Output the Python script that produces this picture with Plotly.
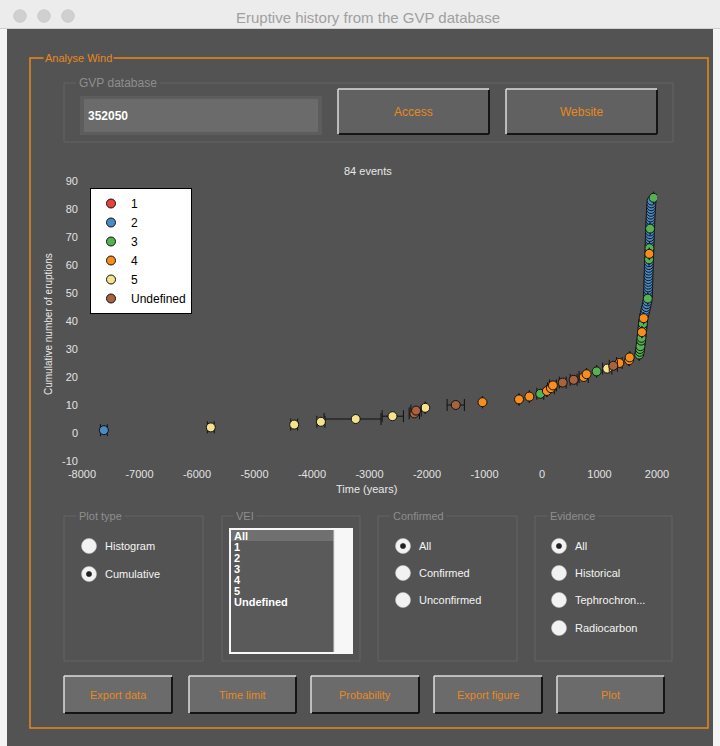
import plotly.graph_objects as go

W, H = 720, 746

# ---------------- eruption catalogue (in chronological order) ----------------
years = [-7620, -5760, -4310, -3845, -3240, -2600, -2220, -2190, -2030, -1500,
         -1035, -400, -220, -30, 85, 155, 190, 360, 550, 725,
         775, 950, 1135, 1240, 1345, 1515, 1525, 1690, 1700, 1705,
         1712, 1720, 1725, 1730, 1735, 1738, 1745, 1750, 1755, 1760,
         1768, 1775, 1790, 1800, 1812, 1822, 1832, 1840, 1842, 1844,
         1845, 1847, 1848, 1850, 1851, 1852, 1854, 1855, 1857, 1858,
         1860, 1862, 1864, 1866, 1868, 1869, 1870, 1872, 1873, 1875,
         1876, 1878, 1880, 1882, 1884, 1886, 1888, 1890, 1893, 1896,
         1899, 1902, 1906, 1940]
vei = ['2', '5', '5', '5', '5', '5', 'Undefined', 'Undefined', '5', 'Undefined',
       '4', '4', '4', '3', '4', '4', '4', 'Undefined', 'Undefined', '4',
       '4', '3', '5', 'Undefined', '4', '4', '4', '3', '3', '3',
       '3', '2', '3', '3', '2', '4', '3', '2', '3', '2',
       '4', '2', '2', '2', '2', '2', '2', '3', '2', '2',
       '2', '2', '2', '2', '2', '2', '2', '2', '2', '2',
       '2', '3', '2', '4', '3', '3', '2', '2', '2', '2',
       '2', '2', '3', '2', '2', '2', '2', '2', '2', '2',
       '2', '2', '2', '3']
err_minus = [60, 60, 60, 70, 550, 180, 90, 90, 0, 150,
             0, 0, 0, 60, 0, 60, 60, 60, 60, 80,
             0, 0, 80, 70, 50, 0, 0] + [0] * 57
err_plus = [60, 60, 60, 70, 440, 190, 90, 90, 0, 150,
            0, 0, 0, 60, 0, 60, 60, 60, 60, 80,
            0, 0, 80, 70, 50, 0, 0] + [0] * 57

vei_classes = ['1', '2', '3', '4', '5', 'Undefined']
vei_colors = ['#e8413c', '#4a8ac6', '#56b154', '#f88d1e', '#f4e28c', '#a8623e']

x_ticks = [-8000, -7000, -6000, -5000, -4000, -3000, -2000, -1000, 0, 1000, 2000]
x_tick_labels = ['-8000', '-7000', '-6000', '-5000', '-4000', '-3000',
                 '-2000', '-1000', '0', '1000', '2000']
y_ticks = [-10, 0, 10, 20, 30, 40, 50, 60, 70, 80, 90]
y_tick_labels = ['-10', '0', '10', '20', '30', '40', '50', '60', '70', '80', '90']

# cumulative number of eruptions
counts = list(range(1, len(years) + 1))

# ---------------- colours / fonts ----------------
BG = '#535353'
ORANGE = '#e8891c'
GROUP_LINE = '#646464'
GROUP_TXT = '#8e8e8e'
FONT = 'Liberation Sans, Arial, sans-serif'

fig = go.Figure()

for cls, col in zip(vei_classes, vei_colors):
    idx = [i for i, v in enumerate(vei) if v == cls]
    xs = [years[i] for i in idx] or [None]
    ys = [counts[i] for i in idx] or [None]
    fig.add_trace(go.Scatter(
        x=xs, y=ys,
        mode='markers',
        name=cls,
        marker=dict(size=9, color=col, line=dict(color='#111111', width=1)),
        error_x=dict(type='data', symmetric=False,
                     array=[err_plus[i] for i in idx] or [0],
                     arrayminus=[err_minus[i] for i in idx] or [0],
                     color='#111111', thickness=1, width=6),
        showlegend=True,
    ))

# ---------------- helpers for the window furniture (pixel coordinates) ----------------
shapes = []
annotations = []


def X(px):
    return px / W


def Y(py):
    return 1 - py / H


def rect(x0, y0, x1, y1, fill=None, line=None, lw=1):
    shapes.append(dict(type='rect', xref='paper', yref='paper',
                       x0=X(x0), x1=X(x1), y0=Y(y1), y1=Y(y0),
                       fillcolor=fill or 'rgba(0,0,0,0)',
                       line=dict(color=line or 'rgba(0,0,0,0)', width=lw if line else 0),
                       layer='below'))


def seg(x0, y0, x1, y1, color, lw=1):
    shapes.append(dict(type='line', xref='paper', yref='paper',
                       x0=X(x0), x1=X(x1), y0=Y(y0), y1=Y(y1),
                       line=dict(color=color, width=lw), layer='below'))


def circle(cx, cy, r, fill, line=None, lw=0.6):
    shapes.append(dict(type='circle', xref='paper', yref='paper',
                       x0=X(cx - r), x1=X(cx + r), y0=Y(cy + r), y1=Y(cy - r),
                       fillcolor=fill,
                       line=dict(color=line or fill, width=lw), layer='above'))


def text(x, y, s, size=11, color='#ffffff', anchor='left', bg=None, angle=0, pad=1):
    a = dict(x=X(x), y=Y(y), xref='paper', yref='paper', text=s, showarrow=False,
             xanchor=anchor, yanchor='middle',
             font=dict(family=FONT, size=size, color=color), textangle=angle)
    if bg:
        a['bgcolor'] = bg
        a['borderpad'] = pad
    annotations.append(a)


def button(x0, y0, x1, y1, label, fill):
    rect(x0, y0, x1, y1, fill=fill)
    seg(x0, y0, x1, y0, '#dcdcdc', 1.5)
    seg(x0, y0, x0, y1, '#dcdcdc', 1.5)
    seg(x0 + 1, y1, x1, y1, '#151515', 2)
    seg(x1, y0 + 1, x1, y1, '#151515', 2)
    text((x0 + x1) / 2, (y0 + y1) / 2, label, 12 if y1 - y0 > 40 else 11, ORANGE, 'center')


def group(x0, y0, x1, y1, label, lx, size=11):
    rect(x0, y0, x1, y1, line=GROUP_LINE, lw=1)
    text(lx, y0, label, size, GROUP_TXT, 'left', bg=BG, pad=2)


def radio(cx, cy, label, selected=False):
    circle(cx, cy, 7.5, '#f2f2f2', '#c4c4c4', 0.6)
    if selected:
        circle(cx, cy, 2.6, '#222222')
    text(cx + 14, cy, label, 11, '#f4f4f4', 'left')


# window frame and title bar
rect(0, 0, 720, 29, fill='#ececec')
seg(0, 28.5, 720, 28.5, '#cfcfcf', 1)
rect(7, 29, 713, 746, fill=BG)
for cx in (20, 44, 68):
    circle(cx, 16, 6.3, '#d0d0d0', '#bdbdbd', 0.6)
text(368, 17, 'Eruptive history from the GVP database', 15, '#a0a0a0', 'center')

# outer orange panel
rect(30, 58, 708, 728, line=ORANGE, lw=1.5)
text(43, 58, 'Analyse Wind', 11, ORANGE, 'left', bg=BG, pad=1)

# database access row
group(64, 83, 673, 142, 'GVP database', 76, 12)
rect(80, 96, 322, 135, fill='#5d5d5d')
rect(84, 99, 318, 132, fill='#6b6b6b')
text(86, 116, '<b>352050</b>', 12, '#ffffff', 'left')
button(338, 89, 489, 134, 'Access', '#616161')
button(506, 89, 657, 134, 'Website', '#616161')

# option panels
group(64, 516, 203, 661, 'Plot type', 76)
radio(89, 546, 'Histogram')
radio(89, 574, 'Cumulative', True)

group(222, 516, 360, 661, 'VEI', 233)
rect(229, 528, 353, 654, fill='#f7f7f7')
rect(231, 530, 334, 652, fill='#5a5a5a')
rect(231, 530, 334, 541, fill='#707070')
seg(334, 530, 334, 652, '#d8d8d8', 1)
list_items = ['All', '1', '2', '3', '4', '5', 'Undefined']
for k, item in enumerate(list_items):
    text(232, 535.5 + 11 * k, '<b>' + item + '</b>', 11, '#ffffff', 'left')

group(378, 516, 517, 661, 'Confirmed', 390)
radio(403, 546, 'All', True)
radio(403, 573, 'Confirmed')
radio(403, 600, 'Unconfirmed')

group(535, 516, 672, 661, 'Evidence', 547)
radio(559, 546, 'All', True)
radio(559, 573, 'Historical')
radio(559, 600, 'Tephrochron...')
radio(559, 628, 'Radiocarbon')

# action buttons
for (x0, x1), lab in zip([(64, 172), (189, 296), (311, 419), (434, 542), (557, 664)],
                         ['Export data', 'Time limit', 'Probability', 'Export figure', 'Plot']):
    button(x0, 676, x1, 713, lab, '#6b6b6b')

# plot titles
text(368, 171, '84 events', 11, '#e8e8e8', 'center')
text(366, 489, 'Time (years)', 11, '#e8e8e8', 'center')
text(48, 324, 'Cumulative number of eruptions', 10, '#e8e8e8', 'center', angle=-90)

TICK_FONT = dict(family=FONT, size=11, color='#e2e2e2')

fig.update_layout(
    width=W, height=H, autosize=False,
    margin=dict(l=0, r=0, t=0, b=0, pad=0, autoexpand=False),
    paper_bgcolor='#f4f4f4',
    plot_bgcolor='#ffffff',
    shapes=shapes,
    annotations=annotations,
    xaxis=dict(domain=[X(82), X(657)], range=[-8000, 2000],
               tickvals=x_ticks, ticktext=x_tick_labels, tickfont=TICK_FONT,
               showgrid=False, zeroline=False, showline=False, ticks='',
               ticklabelstandoff=5, automargin=False),
    yaxis=dict(domain=[Y(461), Y(181)], range=[-10, 90],
               tickvals=y_ticks, ticktext=y_tick_labels, tickfont=TICK_FONT,
               showgrid=False, zeroline=False, showline=False, ticks='',
               ticklabelstandoff=3, automargin=False),
    legend=dict(x=X(90), y=Y(188), xanchor='left', yanchor='top',
                bgcolor='#ffffff', bordercolor='#000000', borderwidth=1,
                font=dict(family=FONT, size=12, color='#000000'),
                itemclick=False, tracegroupgap=0),
    showlegend=True,
)

fig.write_html('out.html')
